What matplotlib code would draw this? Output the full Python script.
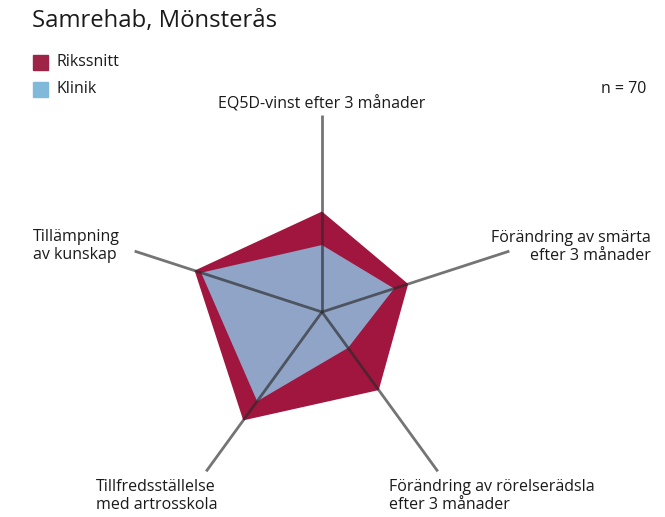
import matplotlib.pyplot as plt
import numpy as np

plt.rcParams['font.family'] = ['Open Sans', 'DejaVu Sans']

categories = ["EQ5D-vinst efter 3 månader",
              "Förändring av smärta\nefter 3 månader",
              "Förändring av rörelserädsla\nefter 3 månader",
              "Tillfredsställelse\nmed artrosskola",
              "Tillämpning\nav kunskap"]
rikssnitt = [0.51, 0.46, 0.49, 0.68, 0.68]
klinik = [0.34, 0.385, 0.225, 0.56, 0.645]

red = "#a1163f"
blue = "#8fa4c6"

W, H = 665, 517
cx, cy, R = 322, 312, 197


def main():
    fig = plt.figure(figsize=(W / 100, H / 100), dpi=100)
    ax = fig.add_axes([0, 0, 1, 1])
    ax.set_xlim(-cx / R, (W - cx) / R)
    ax.set_ylim((cy - H) / R, cy / R)
    ax.axis("off")

    # clockwise from the top
    ang = np.deg2rad(90 - 72 * np.arange(len(categories)))
    ca, sa = np.cos(ang), np.sin(ang)

    r = np.array(rikssnitt)
    k = np.array(klinik)
    ax.fill(r * ca, r * sa, color=red, zorder=2, lw=0)
    ax.fill(k * ca, k * sa, color=blue, zorder=3, lw=0)
    for c, s in zip(ca, sa):
        ax.plot([0, c], [0, s], color="#2a2a2a", alpha=0.65, lw=2.0,
                zorder=4, solid_capstyle="butt")

    def ftext(px, py, s, **kw):
        fig.text(px / W, 1 - py / H, s, **kw)

    fs = 11.5
    ftext(32, 21, "Samrehab, Mönsterås", fontsize=17.2, va="center", color="#1a1a1a")

    for py, col, lab in [(62, "#9e2447", "Rikssnitt"), (89, "#80b9d9", "Klinik")]:
        fig.patches.append(plt.Rectangle((33 / W, 1 - (py + 8) / H), 15 / W, 15 / H,
                                         transform=fig.transFigure, color=col))
        ftext(57, py, lab, fontsize=fs, va="center", color="#1a1a1a")

    ftext(646, 89, "n = 70", fontsize=fs, va="center", ha="right", color="#1a1a1a")

    ftext(322, 104, categories[0], fontsize=fs, ha="center", va="center", color="#1a1a1a")
    ftext(651, 247, categories[1], fontsize=fs, ha="right", va="center",
          multialignment="right", linespacing=1.15, color="#1a1a1a")
    ftext(389, 496, categories[2], fontsize=fs, ha="left", va="center",
          linespacing=1.15, color="#1a1a1a")
    ftext(96, 496, categories[3], fontsize=fs, ha="left", va="center",
          linespacing=1.15, color="#1a1a1a")
    ftext(33, 246, categories[4], fontsize=fs, ha="left", va="center",
          linespacing=1.15, color="#1a1a1a")

    fig.savefig("out.png", dpi=100)


if __name__ == "__main__":
    main()
